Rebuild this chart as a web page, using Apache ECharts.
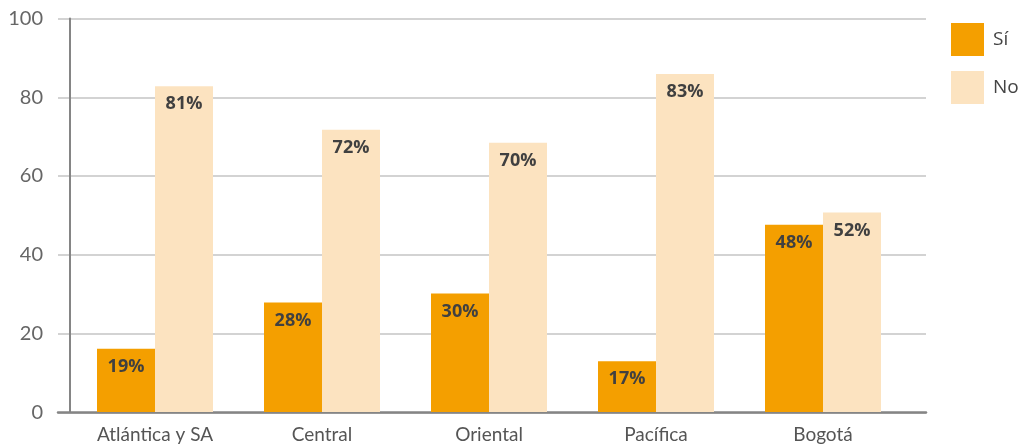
<!DOCTYPE html>
<html>
<head>
<meta charset="utf-8">
<script src="https://cdn.jsdelivr.net/npm/echarts@6/dist/echarts.min.js"></script>
<style>
  html, body { margin: 0; padding: 0; background: #fff; }
  #chart { width: 1023px; height: 444px; }
</style>
</head>
<body>
<div id="chart"></div>
<script>
// regions and the two answers
var regions = ['Atlántica y SA', 'Central', 'Oriental', 'Pacífica', 'Bogotá']
// bar heights as drawn in the picture
var siValues = [16.1, 27.8, 30.1, 12.9, 47.6]
var noValues = [82.8, 71.7, 68.4, 85.9, 50.7]
// printed percentages
var siLabels = [19, 28, 30, 17, 48]
var noLabels = [81, 72, 70, 83, 52]
var yTicks = [0, 20, 40, 60, 80, 100]

var labelStyle = {
    show: true,
    position: 'insideTop',
    distance: 9,
    fontFamily: 'Open Sans',
    fontWeight: 'bold',
    fontSize: 18,
    color: '#404040'
}

var myChart = echarts.init(document.getElementById('chart'))

var options = {
    animation: false,
    legend: {
        orient: 'vertical',
        left: 946,
        top: 18,
        itemWidth: 33,
        itemHeight: 33,
        itemGap: 15,
        icon: 'rect',
        textStyle: { fontFamily: 'Open Sans', fontSize: 19, color: '#444', padding: [0, 0, 0, 4] },
        data: ['Sí', 'No']
    },
    grid: [
        // background grid: gridlines, y labels, baseline
        { left: 58, right: 97, top: 18.5, bottom: 31.7 },
        // bars
        { left: 71.5, right: 116.5, top: 18.5, bottom: 31.7 }
    ],
    xAxis: [
        {
            gridIndex: 0, type: 'category', data: ['x'],
            axisLine: { show: true, lineStyle: { color: '#858585', width: 2.5 } },
            axisTick: { show: false }, axisLabel: { show: false }
        },
        {
            gridIndex: 1, type: 'category', data: regions,
            axisLine: { show: false }, axisTick: { show: false },
            axisLabel: { margin: 13, fontFamily: 'Lato', fontSize: 19, color: '#555' }
        }
    ],
    yAxis: [
        {
            gridIndex: 0, type: 'value', min: yTicks[0], max: yTicks[yTicks.length - 1], interval: 20,
            axisLine: { show: false }, axisTick: { show: false },
            axisLabel: { margin: 15, align: 'right', fontFamily: 'Lato', fontSize: 20, color: '#666' },
            splitLine: { lineStyle: { color: '#c4c4c4', width: 1.5 } }
        },
        {
            gridIndex: 1, type: 'value', min: 0, max: 100, offset: 2,
            axisLine: { show: true, lineStyle: { color: '#858585', width: 2 } },
            axisTick: { show: false }, axisLabel: { show: false }, splitLine: { show: false }
        }
    ],
    series: [
        {
            name: 'Sí', type: 'bar', xAxisIndex: 1, yAxisIndex: 1,
            barWidth: 58, barGap: '0%',
            itemStyle: { color: '#F49F00' },
            label: Object.assign({}, labelStyle, {
                formatter: function (p) { return siLabels[p.dataIndex] + '%' }
            }),
            data: siValues
        },
        {
            name: 'No', type: 'bar', xAxisIndex: 1, yAxisIndex: 1,
            barWidth: 58, barGap: '0%',
            itemStyle: { color: '#FCE3C0' },
            label: Object.assign({}, labelStyle, {
                formatter: function (p) { return noLabels[p.dataIndex] + '%' }
            }),
            data: noValues
        }
    ]
}

myChart.setOption(options)
</script>
</body>
</html>
